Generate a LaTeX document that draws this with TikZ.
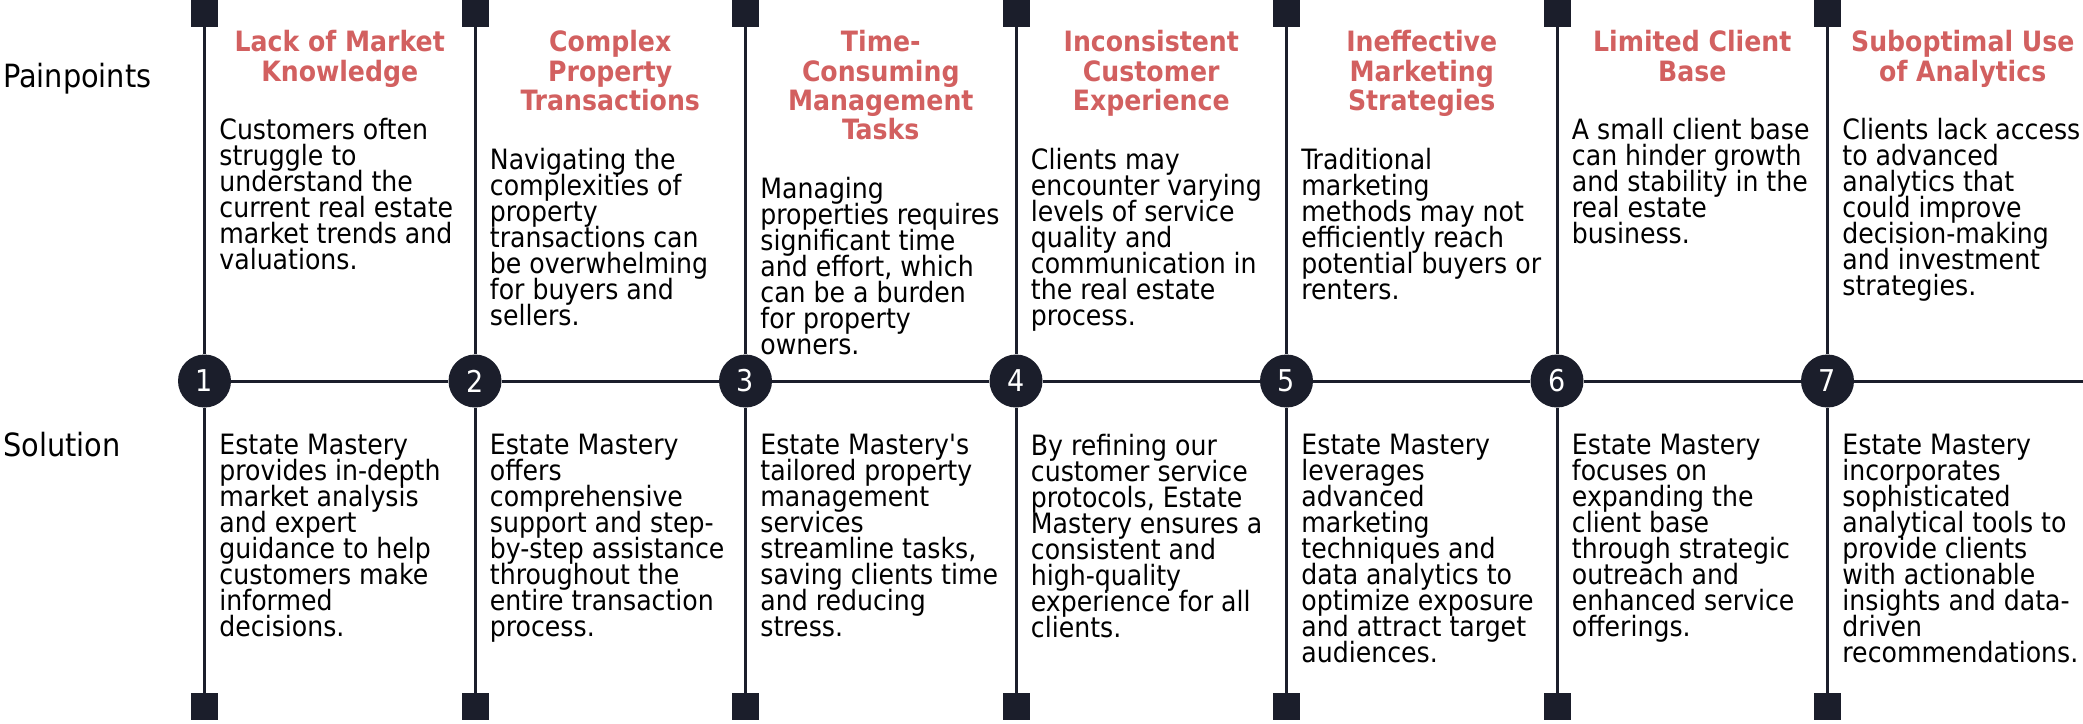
\documentclass[tikz,border=0pt]{standalone}
\usepackage{fontspec}
\setmainfont{DejaVu Sans Condensed}
\usetikzlibrary{positioning}

\definecolor{navy}{RGB}{27,30,43}
\definecolor{salmon}{RGB}{210,96,96}
\newcommand{\topstrut}{\rule{0pt}{23pt}}
\newcommand{\botstrut}{\rule[-9pt]{0pt}{9pt}}
\newcommand{\headfont}{\fontsize{28}{29.3}\selectfont\bfseries\lineskiplimit=-100pt\relax}
\newcommand{\bodyfont}{\fontsize{28}{26}\selectfont\lineskiplimit=-100pt\relax}

\begin{document}
\begin{tikzpicture}[x=1pt,y=-1pt]
    \tikzstyle{stop}=[rectangle,fill=navy,inner sep=0pt,minimum size=27pt]
    \tikzstyle{num}=[circle,fill=navy,text=white,inner sep=0pt,minimum size=53pt,font=\fontsize{30}{30}\selectfont]
    \tikzstyle{rail}=[draw=navy,line width=3pt]
    \tikzstyle{head}=[anchor=north,align=center,inner sep=0pt,text=salmon,font=\headfont,execute at begin node=\topstrut,execute at end node=\botstrut]
    \tikzstyle{desc}=[anchor=north west,align=left,inner sep=0pt,font=\bodyfont,execute at begin node=\topstrut,execute at end node=\botstrut]
    \tikzstyle{side}=[anchor=base west,inner sep=0pt,font=\fontsize{32}{32}\selectfont]
    \useasboundingbox (0,0) rectangle (2083,723);

      % timeline
      \foreach \i in {1,...,7}{
        \node (t\i) at ({204.5+270.5*(\i-1)}, 13.5) [stop] {};
        \node (c\i) at ({204.5+270.5*(\i-1)}, 381) [num] {\i};
        \node (b\i) at ({204.5+270.5*(\i-1)}, 706.5) [stop] {};
        \path[rail] (t\i) -- (c\i) -- (b\i);
      }
      \coordinate (end) at (2083, 381);
      \path[rail] (c1) -- (c2) -- (c3) -- (c4) -- (c5) -- (c6) -- (c7) -- (end);

      \node (painpoints) at (3, 87) [side] {Painpoints};
      \node (solution) at (3, 456) [side] {Solution};

      % painpoints
      \node (p1t) at (339.75, 30.5) [head] {Lack of Market\\Knowledge};
      \node (p1) [desc, below=28pt of p1t.south, anchor=north west, xshift=-120.5pt] {Customers often\\struggle to\\understand the\\current real estate\\market trends and\\valuations.};
      \node (p2t) at (610.25, 30.5) [head] {Complex\\Property\\Transactions};
      \node (p2) [desc, below=28pt of p2t.south, anchor=north west, xshift=-120.5pt] {Navigating the\\complexities of\\property\\transactions can\\be overwhelming\\for buyers and\\sellers.};
      \node (p3t) at (880.75, 30.5) [head] {Time-\\Consuming\\Management\\Tasks};
      \node (p3) [desc, below=28pt of p3t.south, anchor=north west, xshift=-120.5pt] {Managing\\properties requires\\significant time\\and effort, which\\can be a burden\\for property\\owners.};
      \node (p4t) at (1151.25, 30.5) [head] {Inconsistent\\Customer\\Experience};
      \node (p4) [desc, below=28pt of p4t.south, anchor=north west, xshift=-120.5pt] {Clients may\\encounter varying\\levels of service\\quality and\\communication in\\the real estate\\process.};
      \node (p5t) at (1421.75, 30.5) [head] {Ineffective\\Marketing\\Strategies};
      \node (p5) [desc, below=28pt of p5t.south, anchor=north west, xshift=-120.5pt] {Traditional\\marketing\\methods may not\\efficiently reach\\potential buyers or\\renters.};
      \node (p6t) at (1692.25, 30.5) [head] {Limited Client\\Base};
      \node (p6) [desc, below=28pt of p6t.south, anchor=north west, xshift=-120.5pt] {A small client base\\can hinder growth\\and stability in the\\real estate\\business.};
      \node (p7t) at (1962.75, 30.5) [head] {Suboptimal Use\\of Analytics};
      \node (p7) [desc, below=28pt of p7t.south, anchor=north west, xshift=-120.5pt] {Clients lack access\\to advanced\\analytics that\\could improve\\decision-making\\and investment\\strategies.};

      % solutions
      \node (s1) at (219.25, 434) [desc] {Estate Mastery\\provides in-depth\\market analysis\\and expert\\guidance to help\\customers make\\informed\\decisions.};
      \node (s2) at (489.75, 434) [desc] {Estate Mastery\\offers\\comprehensive\\support and step-\\by-step assistance\\throughout the\\entire transaction\\process.};
      \node (s3) at (760.25, 434) [desc] {Estate Mastery\textquotesingle s\\tailored property\\management\\services\\streamline tasks,\\saving clients time\\and reducing\\stress.};
      \node (s4) at (1030.75, 434) [desc] {By refining our\\customer service\\protocols, Estate\\Mastery ensures a\\consistent and\\high-quality\\experience for all\\clients.};
      \node (s5) at (1301.25, 434) [desc] {Estate Mastery\\leverages\\advanced\\marketing\\techniques and\\data analytics to\\optimize exposure\\and attract target\\audiences.};
      \node (s6) at (1571.75, 434) [desc] {Estate Mastery\\focuses on\\expanding the\\client base\\through strategic\\outreach and\\enhanced service\\offerings.};
      \node (s7) at (1842.25, 434) [desc] {Estate Mastery\\incorporates\\sophisticated\\analytical tools to\\provide clients\\with actionable\\insights and data-\\driven\\recommendations.};
\end{tikzpicture}
\end{document}
